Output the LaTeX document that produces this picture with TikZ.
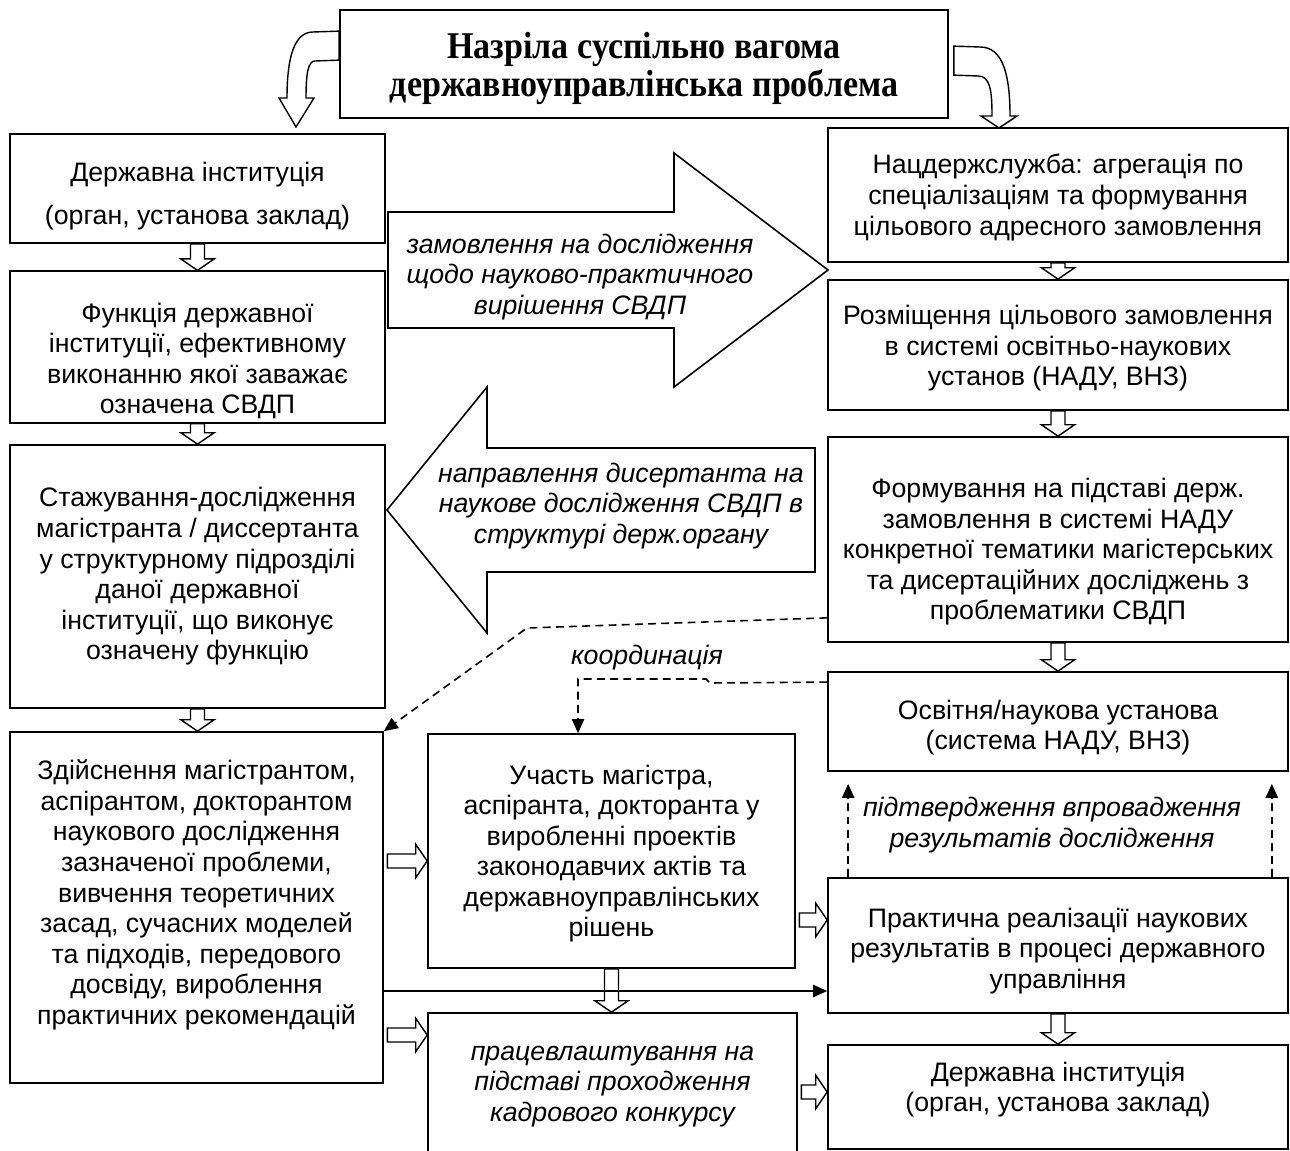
\documentclass[tikz,border=0pt]{standalone}
\usepackage{fontspec}
\setmainfont{Liberation Sans}
\newfontfamily\titlefont[FakeStretch=0.9]{Liberation Serif}
\usepackage{tikz}
\usetikzlibrary{calc,arrows.meta}
\tikzset{
  box/.style={draw, line width=1pt, align=center, inner sep=2pt, font=\fontsize{15.2}{17.4}\selectfont},
  ibox/.style={box, font=\fontsize{15.2}{17.4}\selectfont\itshape},
  tbox/.style={box, font=\titlefont\bfseries\fontsize{21.5}{21.6}\selectfont},
  note/.style={align=center, inner sep=0pt, font=\fontsize{15.2}{17.4}\selectfont\itshape},
  harrow/.style={draw, line width=0.8pt, line join=miter, fill=white},
  big/.style={draw, line width=0.9pt, fill=white},
  dl/.style={draw, line width=0.9pt, dash pattern=on 4.5pt off 3pt, -{Triangle[length=8pt,width=7pt]}},
  sl/.style={draw, line width=0.9pt, -{Triangle[length=8pt,width=7pt]}},
}
\newcommand{\dn}[1]{\rule{0pt}{#1pt}}
\newcommand{\hdown}[2]{%
  \draw[harrow] let \p1=(#1.south), \p2=(#2.north) in
    (\x1-4pt,\y1) -- (\x1-4pt,\y2+6.5pt) -- (\x1-9.5pt,\y2+6.5pt) -- (\x1,\y2)
    -- (\x1+9.5pt,\y2+6.5pt) -- (\x1+4pt,\y2+6.5pt) -- (\x1+4pt,\y1) -- cycle;}
\newcommand{\hright}[3]{%
  \coordinate (hy) at (0,#3);
  \draw[harrow] let \p1=(#1.east |- hy), \p2=(#2.west |- hy) in
    (\x1+2pt,\y1-4pt) -- (\x2-6.5pt,\y1-4pt) -- (\x2-6.5pt,\y1-9.5pt) -- (\x2,\y1)
    -- (\x2-6.5pt,\y1+9.5pt) -- (\x2-6.5pt,\y1+4pt) -- (\x1+2pt,\y1+4pt) -- cycle;}

\begin{document}
\begin{tikzpicture}[x=0.02cm,y=-0.02cm]
  \useasboundingbox (0,0) rectangle (1290,1151);
  \node[tbox, minimum width=12.16cm, minimum height=2.16cm] (top) at (644,64)
    {\dn{20}Назріла суспільно вагома\\державноуправлінська проблема};
  % left column
  \node[box, minimum width=7.5cm, minimum height=2.18cm] (inst) at (197.5,188.5)
    {\dn{20}Державна інституція\\[7pt](орган, установа заклад)};
  \node[box, minimum width=7.5cm, minimum height=2.96cm] (func) at (197.5,347)
    {\dn{27}Функція державної\\інституції, ефективному\\виконанню якої заважає\\означена СВДП};
  \node[box, minimum width=7.5cm, minimum height=5.26cm] (intern) at (197.5,576.5)
    {Стажування-дослідження\\магістранта / диссертанта\\у структурному підрозділі\\даної державної\\інституції, що виконує\\означену функцію};
  \node[box, minimum width=7.46cm, minimum height=7.02cm] (research) at (196.5,907.5)
    {Здійснення магістрантом,\\аспірантом, докторантом\\наукового дослідження\\зазначеної проблеми,\\вивчення теоретичних\\засад, сучасних моделей\\та підходів, передового\\досвіду, вироблення\\практичних рекомендацій\\[0pt]};
  % middle column
  \node[box, minimum width=7.34cm, minimum height=4.68cm] (part) at (611.5,851)
    {\dn{14}Участь магістра,\\аспіранта, докторанта у\\виробленні проектів\\законодавчих актів та\\державноуправлінських\\рішень};
  \node[ibox, minimum width=7.38cm, minimum height=2.94cm] (employ) at (612.5,1086.5)
    {працевлаштування на\\підставі проходження\\кадрового конкурсу};
  % right column
  \node[box, minimum width=9.2cm, minimum height=2.68cm] (nads) at (1058,195)
    {\dn{14}Нацдержслужба: агрегація по\\спеціалізаціям та формування\\цільового адресного замовлення};
  \node[box, minimum width=9.2cm, minimum height=2.6cm] (place) at (1058,345)
    {\dn{15}Розміщення цільового замовлення\\в системі освітньо-наукових\\установ (НАДУ, ВНЗ)};
  \node[box, minimum width=9.2cm, minimum height=4.1cm] (topics) at (1058,539.5)
    {\dn{25}Формування на підставі держ.\\замовлення в системі НАДУ\\конкретної тематики магістерських\\та дисертаційних досліджень з\\проблематики СВДП};
  \node[box, minimum width=9.2cm, minimum height=1.98cm] (edu) at (1058,721.5)
    {\dn{18}Освітня/наукова установа\\(система НАДУ, ВНЗ)};
  \node[box, minimum width=9.2cm, minimum height=2.7cm] (impl) at (1058,945.5)
    {\dn{17}Практична реалізації наукових\\результатів в процесі державного\\управління};
  \node[box, minimum width=9.2cm, minimum height=2.08cm] (inst2) at (1058,1097)
    {Державна інституція\\(орган, установа заклад)\\[-6pt]};

  % curved arrows from the problem
  \draw[harrow] ($(top.north west)+(0,22)$) -- (313,32) .. controls (294,32) and (287,58) .. (287,98)
    -- (279,98) -- (296,127) -- (314,98) -- (306,98) .. controls (306,74) and (308,61) .. (315,61)
    -- ($(top.north west)+(0,51)$) -- cycle;
  \draw[harrow] ($(top.north east)+(5,37)$) -- (980,47) .. controls (1003,47) and (1010,75) .. (1010,116)
    -- (1017,116) -- (999,128) -- (981,116) -- (992,116) .. controls (992,90) and (990,76) .. (978,76)
    -- ($(top.north east)+(5,66)$) -- cycle;

  % big arrows
  \draw[big] (388,212) -- (674,212) -- (674,153) -- (828,270) -- (674,387) -- (674,328) -- (388,328) -- cycle;
  \node[note] (order) at (580,277)
    {замовлення на дослідження\\щодо науково-практичного\\вирішення СВДП};
  \draw[big] (815,448) -- (487,448) -- (487,387) -- (387,510) -- (487,633) -- (487,572) -- (815,572) -- cycle;
  \node[note] (send) at (621,506)
    {направлення дисертанта на\\наукове дослідження СВДП в\\структурі держ.органу};

  \foreach \a/\b in {inst/func, func/intern, intern/research, nads/place, place/topics, topics/edu, impl/inst2, part/employ}
    \hdown{\a}{\b};
  \foreach \a/\b/\y in {research/part/861, research/employ/1035, part/impl/920, employ/inst2/1092}
    \hright{\a}{\b}{\y};

  % dashed links
  \draw[dl] ($(topics.south west)+(0,-25)$) -- (527,628) -- (research.north east);
  \node[note] (coord) at (647,658) {координація};
  \coordinate (k) at (578,679);
  \draw[dl] ($(edu.north west)+(0,11)$) -- (710,683) -- (706,679) -- (k) -- (k |- part.north);
  \draw[dl] ($(impl.north west)+(21,0)$) -- ($(edu.south west)+(21,12)$);
  \draw[dl] ($(impl.north east)+(-17,0)$) -- ($(edu.south east)+(-17,12)$);
  \node[note] (confirm) at (1052,825)
    {підтвердження впровадження\\результатів дослідження};

  \coordinate (s) at (0,991);
  \draw[sl] (research.east |- s) -- (impl.west |- s);
\end{tikzpicture}
\end{document}
